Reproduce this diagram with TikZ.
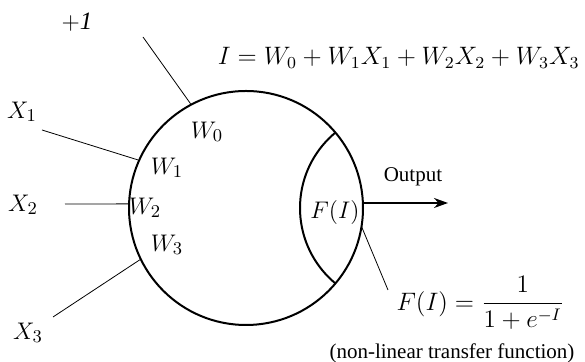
\documentclass[tikz,border=0pt]{standalone}
\usepackage{amsmath}
\usepackage{fontspec}
\setmainfont{Liberation Serif}
\usetikzlibrary{arrows.meta, positioning}

\begin{document}
\begin{tikzpicture}[x=0.5pt, y=-0.5pt,
    lbl/.style={font=\fontsize{12.5}{15}\selectfont, inner sep=1pt},
    eqn/.style={font=\fontsize{12}{15}\selectfont, inner sep=1pt, scale=1.05, transform shape},
    wire/.style={line width=0.4pt},
    body/.style={circle, draw, line width=1pt, minimum size=117pt, inner sep=0pt}]
  \useasboundingbox (0,0) rectangle (585,362);
  % Neuron body
  \node[body] (cell) at (246,208) {};
  \begin{scope}
    \clip (246,208) circle (117);
    \draw[line width=1pt] (398,208) circle (98);
  \end{scope}
  % Inputs and weights
  \node[lbl] (bias) at (77,22) {$+\mathit{1}$};
  \node[lbl] (x1) at (22,112) {$X_1$};
  \node[lbl] (x2) at (23,205) {$X_2$};
  \node[lbl] (x3) at (28,333) {$X_3$};
  \node[lbl] (w0) at (207,132) {$W_0$};
  \node[lbl] (w1) at (167,168) {$W_1$};
  \node[lbl] (w2) at (145,208) {$W_2$};
  \node[lbl] (w3) at (167,245) {$W_3$};
  \coordinate (b0) at (143,37);
  \coordinate (b1) at (42,130);
  \coordinate (b2) at (65,204);
  \coordinate (b3) at (53,317);
  \draw[wire] (b0) -- (cell.118);
  \draw[wire] (b1) -- (cell.156);
  \draw[wire] (b2) -- (cell.178);
  \draw[wire] (b3) -- (cell.206);
  % Weighted sum
  \node[eqn, anchor=east] (sum) at (582,58) {$I = W_0 + W_1 X_1 + W_2 X_2 + W_3 X_3$};
  % Transfer function
  \node[lbl] (fi) at (335,213) {$F(I)$};
  \node[eqn, anchor=west] (ff) at (394,303) {$F(I) = \dfrac{1}{1+e^{-I}}$};
  \node[font=\fontsize{10.5}{12}\selectfont, inner sep=1pt] (note) at (452,353) {(non-linear transfer function)};
  \coordinate (fe) at (388,290);
  \draw[wire] (fi.south east) -- (fe);
  % Output
  \coordinate (out) at (448,203);
  \draw[line width=0.9pt, -{Stealth[length=7pt, width=5pt]}] (cell.east |- out) -- (out);
  \node[font=\fontsize{10.5}{12}\selectfont, inner sep=1pt] (olbl) at (413,177) {Output};
\end{tikzpicture}
\end{document}
